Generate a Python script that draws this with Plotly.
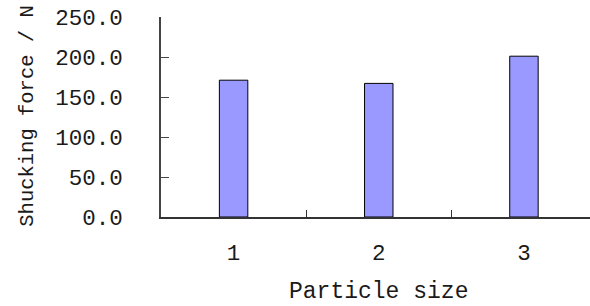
import plotly.graph_objects as go

categories = ["1", "2", "3"]
force_values = [171, 167, 201]
y_tick_values = [0, 50, 100, 150, 200, 250]
y_tick_labels = ["0.0", "50.0", "100.0", "150.0", "200.0", "250.0"]

FONT = "Liberation Mono"
TEXT_COLOR = "#1a1a1a"
fig = go.Figure()
fig.add_trace(go.Bar(
    x=categories, y=force_values, width=0.196,
    marker=dict(color="#9999FF", line=dict(color="#000000", width=1)),
))

fig.update_layout(
    width=590, height=306,
    margin=dict(l=161, r=0, t=17, b=89, autoexpand=False),
    plot_bgcolor="white", paper_bgcolor="white",
    showlegend=False,
    font=dict(family=FONT, size=22, color=TEXT_COLOR),
    xaxis=dict(
        type="category", range=[-0.5, 2.455], automargin=False,
        showline=True, linecolor="#333333", linewidth=1.5,
        ticks="inside", tickson="boundaries", ticklen=7, tickcolor="#333333",
        ticklabelstandoff=14, showgrid=False, zeroline=False,
        tickfont=dict(family=FONT, size=22.5, color=TEXT_COLOR),
    ),
    yaxis=dict(
        range=[0, 250], tickvals=y_tick_values, ticktext=y_tick_labels,
        automargin=False, ticklabeloverflow="allow",
        showline=True, linecolor="#444444", linewidth=1.5,
        ticks="inside", ticklen=8, tickcolor="#444444",
        ticklabelstandoff=32, showgrid=False, zeroline=False,
        tickfont=dict(family=FONT, size=22.5, color=TEXT_COLOR),
    ),
    annotations=[
        dict(text="Shucking force / N", xref="paper", yref="paper",
             x=-0.313, y=0.505, xanchor="center", yanchor="middle",
             textangle=-90, showarrow=False,
             font=dict(family=FONT, size=20.5, color=TEXT_COLOR)),
        dict(text="Particle size", xref="paper", yref="paper",
             x=0.507, y=-0.375, xanchor="center", yanchor="middle",
             showarrow=False, font=dict(family=FONT, size=23, color=TEXT_COLOR)),
    ],
)

fig.write_html("out.html", config={"displayModeBar": False},
               post_script="document.body.style.margin='0';document.body.style.padding='0';")
